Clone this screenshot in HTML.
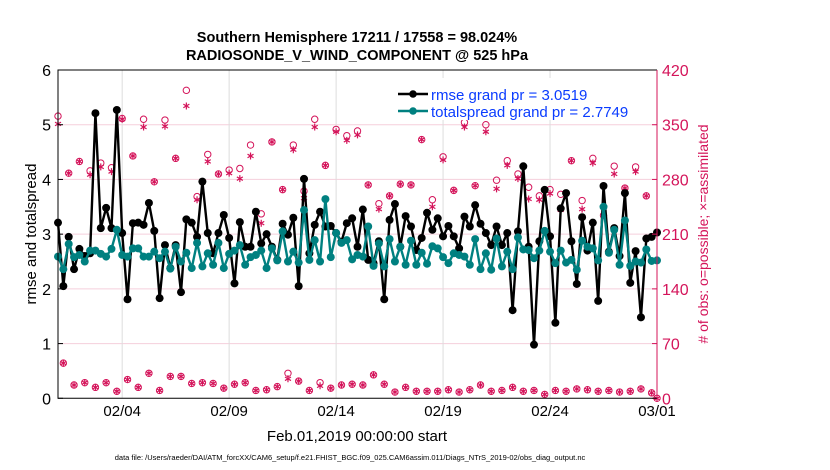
<!DOCTYPE html>
<html><head><meta charset="utf-8"><style>
html,body{margin:0;padding:0;background:#fff;}
svg{display:block;font-family:"Liberation Sans",sans-serif;}
</style></head><body>
<svg id="chart" width="830" height="470" viewBox="0 0 830 470">
<text x="357" y="42" text-anchor="middle" font-size="14.5" font-weight="bold">Southern Hemisphere 17211 / 17558 = 98.024%</text>
<text x="357" y="60" text-anchor="middle" font-size="14.5" font-weight="bold">RADIOSONDE_V_WIND_COMPONENT @ 525 hPa</text>
<g id="grid"></g>
<g id="marks"></g>
<g id="axes"></g>
<text transform="translate(36,234) rotate(-90)" text-anchor="middle" font-size="15">rmse and totalspread</text>
<text transform="translate(708,234) rotate(-90)" text-anchor="middle" font-size="14" fill="#d4145a"># of obs: o=possible; ×=assimilated</text>
<text x="357" y="441" text-anchor="middle" font-size="15">Feb.01,2019 00:00:00 start</text>
<text x="350" y="460" text-anchor="middle" font-size="7.5">data file: /Users/raeder/DAI/ATM_forcXX/CAM6_setup/f.e21.FHIST_BGC.f09_025.CAM6assim.011/Diags_NTrS_2019-02/obs_diag_output.nc</text>
<g>
<rect x="385" y="78" width="265" height="42" fill="#fff"/>
<g>
<line x1="398" y1="94" x2="428" y2="94" stroke="#000" stroke-width="2.5"/>
<circle cx="413" cy="94" r="3.8" fill="#000"/>
<text x="431" y="100" font-size="15" fill="#0a3cff">rmse grand pr = 3.0519</text>
</g>
<g>
<line x1="398" y1="111" x2="428" y2="111" stroke="#008080" stroke-width="2.5"/>
<circle cx="413" cy="111" r="3.8" fill="#008080"/>
<text x="431" y="117" font-size="15" fill="#0a3cff">totalspread grand pr = 2.7749</text>
</g>
</g>
</svg>
<script>
const rmse = [3.21,2.05,2.95,2.36,2.73,2.6,2.65,5.21,3.11,3.48,
3.11,5.27,3.02,1.81,3.2,3.21,3.17,3.57,3.06,1.83,
2.8,2.38,2.8,1.94,3.27,3.21,2.95,3.96,3.02,2.65,
3.02,3.35,2.93,2.10,3.22,2.77,2.77,3.41,2.83,3.0,
2.77,2.53,3.19,2.99,3.30,2.05,4.01,2.65,3.17,3.41,
3.14,3.15,3.02,2.86,3.2,3.29,2.77,3.45,2.53,2.47,
2.87,1.81,3.26,3.55,2.77,3.33,3.14,2.71,2.93,3.39,
3.08,3.29,2.96,3.15,2.96,2.74,3.32,3.14,3.53,3.19,
3.02,2.8,3.14,2.8,3.02,1.61,3.05,4.24,2.77,0.98,
2.87,3.81,2.96,1.38,3.47,3.75,2.87,2.09,3.31,2.70,
3.21,1.78,3.88,2.68,3.11,2.6,3.75,2.11,2.69,1.48,
2.92,2.95,3.03];
const spread = [2.59,2.36,2.82,2.58,2.62,2.5,2.7,2.7,2.64,2.59,
2.73,3.08,2.62,2.59,2.74,2.74,2.59,2.59,2.68,2.56,
2.68,2.37,2.77,2.5,2.66,2.38,2.84,2.41,2.65,2.44,
2.84,2.38,2.64,2.70,2.80,2.44,2.58,2.62,2.70,2.38,
2.74,2.52,3.05,2.5,2.68,2.48,3.44,2.53,2.89,2.5,
3.64,2.58,3.02,2.84,2.89,2.54,2.62,2.59,3.14,2.42,
2.83,2.41,2.91,2.5,2.77,2.44,2.88,2.44,2.66,2.46,
2.78,2.74,2.58,2.47,2.65,2.62,2.59,2.44,2.91,2.36,
2.65,2.35,2.92,2.41,2.68,2.36,2.94,2.72,2.71,2.56,
2.70,3.06,2.68,2.47,2.70,2.48,2.53,2.35,2.88,2.77,
2.74,2.52,3.50,2.66,3.08,2.44,3.25,2.42,2.5,2.48,
2.72,2.51,2.52];
const obsPossible = [361,45,288,17,303,20,291,14,301,20,295,9,358,24,310,14,357,32,277,10,356,28,307,28,394,19,258,20,312,19,287,13,292,18,294,20,324,10,236,11,328,15,267,32,324,22,265,10,357,20,298,13,344,17,336,18,342,17,273,30,249,18,259,8,274,14,273,9,331,9,254,9,309,11,266,8,353,11,272,17,350,9,279,10,304,14,287,9,270,10,259,5,267,10,261,9,304,12,253,11,307,9,234,10,297,8,269,9,296,12,259,7,0];
const obsAssim = [351,45,288,17,303,20,286,14,296,20,290,9,357,24,310,14,347,32,277,10,348,28,307,28,374,19,254,20,303,19,287,13,288,18,281,20,310,10,224,11,328,15,267,25,318,22,256,10,347,16,298,13,341,17,330,18,337,17,273,30,242,18,259,8,274,14,273,9,331,9,245,9,305,11,266,8,347,11,272,17,341,9,268,10,298,14,281,9,255,10,254,5,262,10,241,9,304,12,242,11,301,9,234,10,287,8,269,9,290,12,259,7,0];
const leftTicks = [0,1,2,3,4,5,6];
const rightTicks = [0,70,140,210,280,350,420];
const dateTickDays = [3,8,13,18,23,28];
const dateTickLabels = ["02/04","02/09","02/14","02/19","02/24","03/01"];
const stepDays = 0.25;

const NS="http://www.w3.org/2000/svg";
const X0=58,X1=657,Y0=398.3,Y1=70;
const RED="#d4145a";
function xDay(d){return X0+(X1-X0)*d/28;}
function yL(v){return Y0-(Y0-Y1)*v/6;}
function yR(c){return Y0-(Y0-Y1)*c/420;}
function mk(tag,attrs,parent){const e=document.createElementNS(NS,tag);for(const k in attrs)e.setAttribute(k,attrs[k]);parent.appendChild(e);return e;}
const grid=document.getElementById('grid'),marks=document.getElementById('marks'),axes=document.getElementById('axes');

leftTicks.forEach((t)=>{
  if(t>0&&t<6){const g=mk('line',{x1:X0,x2:X1,y1:yL(t),y2:yL(t),stroke:'#f5cfdc','stroke-width':1},grid);
  
  }
  const tk=mk('line',{x1:X0,x2:X0+5,y1:yL(t),y2:yL(t),stroke:'#000'},axes);
  
  
  const tx=mk('text',{x:X0-7,y:yL(t)+6,'text-anchor':'end','font-size':16},axes);
  tx.textContent=t;
  
  
});
rightTicks.forEach((t)=>{
  const tk=mk('line',{x1:X1-5,x2:X1,y1:yR(t),y2:yR(t),stroke:RED},axes);
  
  
  const tx=mk('text',{x:X1+5,y:yR(t)+6,'font-size':16,fill:RED},axes);
  tx.textContent=t;
  
  
});
dateTickDays.forEach((d,i)=>{
  const x=xDay(d);
  if(d<28){const g=mk('line',{x1:x,x2:x,y1:Y1,y2:Y0,stroke:'#dddddd'},grid);
  
  }
  const tx=mk('text',{x:x,y:416,'text-anchor':'middle','font-size':15},axes);
  tx.textContent=dateTickLabels[i];
  
  
});
const fr=mk('path',{d:`M${X1},${Y1}H${X0}V${Y0}H${X1}`,fill:'none',stroke:'#000','stroke-width':1},axes);


const ra=mk('line',{x1:X1,x2:X1,y1:Y1,y2:Y0,stroke:RED,'stroke-width':1},axes);



obsPossible.forEach((c,i)=>{
  const x=xDay(i*stepDays);
  const o=mk('circle',{cx:x,cy:yR(c),r:3.2,fill:'none',stroke:RED,'stroke-width':1},marks);
  
  
});
obsAssim.forEach((c,i)=>{
  const x=xDay(i*stepDays),y=yR(c);
  const a=mk('path',{d:`M${x},${y-3.5}V${y+3.5}M${x-3},${y-1.8}L${x+3},${y+1.8}M${x-3},${y+1.8}L${x+3},${y-1.8}`,stroke:RED,'stroke-width':1.2},marks);
  
  
});

function series(vals,color,name){
  const pts=vals.map((v,i)=>xDay(i*stepDays).toFixed(2)+','+yL(v).toFixed(2)).join(' ');
  const pl=mk('polyline',{points:pts,fill:'none',stroke:color,'stroke-width':2.4,'stroke-linejoin':'round'},marks);
  
  
  vals.forEach((v,i)=>{
    const c=mk('circle',{cx:xDay(i*stepDays),cy:yL(v),r:4,fill:color},marks);
    
    
  });
}
series(rmse,'#000','rmse');
series(spread,'#008080','totalspread');
</script>
</body></html>
